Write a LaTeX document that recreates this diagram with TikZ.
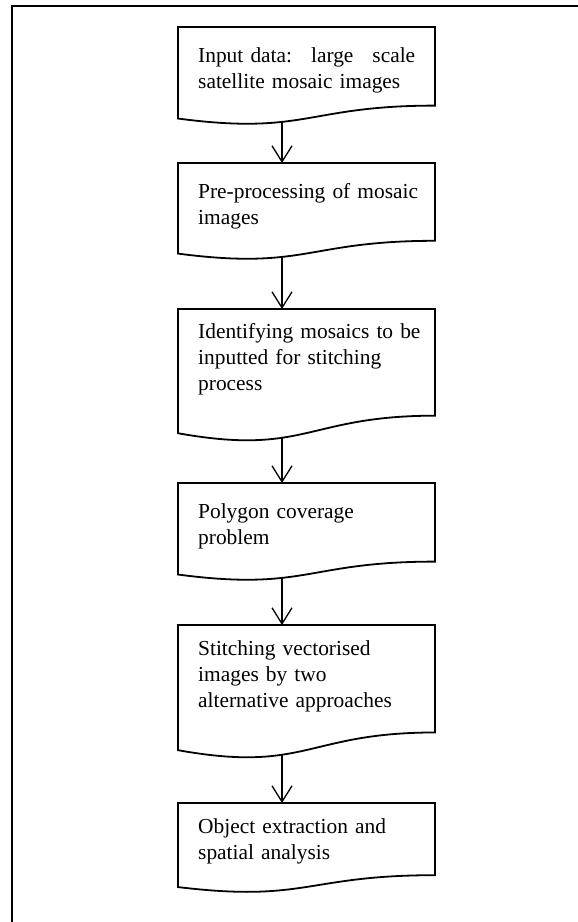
\documentclass[tikz,border=0pt]{standalone}
\usepackage{fontspec}
\setmainfont{Liberation Serif}
\usetikzlibrary{arrows.meta}
\newcommand{\flowdoc}[5]{%
  \draw[boxline] (178,#2) -- (435,#2) -- (435,{#2+0.802*#3})
     .. controls (306.5,{#2+0.802*#3}) and (306.5,{#2+1.107*#3}) .. (178,{#2+0.934*#3}) -- cycle;
  \node[txt] (#1) at (198,{#4-18.2}) {\strut #5};
  \coordinate (#1-in) at (282,#2);
  \coordinate (#1-out) at (282,{#2+0.968*#3});
}
\begin{document}
\begin{tikzpicture}[x=1pt,y=-1pt,
  boxline/.style={line width=1.8pt, line join=miter},
  frameline/.style={line width=2.6pt},
  flowarrow/.style={line width=1.3pt, -{Straight Barb[length=16pt,width=20pt,line width=1.3pt]}},
  txt/.style={inner sep=0pt, text width=250pt, align=left, font=\fontsize{21.4}{26}\selectfont, anchor=north west}]
\useasboundingbox[fill=white] (0,0) rectangle (578,922);
\draw[frameline] (578,6) -- (12,6) -- (12,922);
\flowdoc{b1}{27}{98}{62}{\hbox to 217pt{Input data:\hfill large\hfill scale}\\satellite mosaic images}
\flowdoc{b2}{163}{97}{198}{Pre-processing of mosaic\\images}
\flowdoc{b3}{309}{133}{338}{Identifying mosaics to be\\inputted for stitching\\process}
\flowdoc{b4}{483}{98}{518}{Polygon coverage\\problem}
\flowdoc{b5}{625}{134}{655}{Stitching vectorised\\images by two\\alternative approaches}
\flowdoc{b6}{803}{90}{833}{Object extraction and\\spatial analysis}
\draw[flowarrow] (b1-out) -- (b2-in);
\draw[flowarrow] (b2-out) -- (b3-in);
\draw[flowarrow] (b3-out) -- (b4-in);
\draw[flowarrow] (b4-out) -- (b5-in);
\draw[flowarrow] (b5-out) -- (b6-in);
\end{tikzpicture}
\end{document}
